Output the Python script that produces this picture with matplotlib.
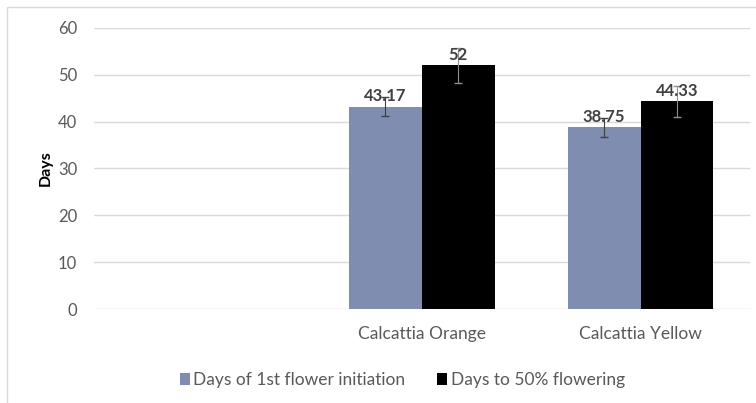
import matplotlib

matplotlib.use("Agg")
import matplotlib.pyplot as plt
import numpy as np
from matplotlib.patches import Rectangle

plt.rcParams["font.family"] = ["Lato", "DejaVu Sans"]

# Data
categories = ["", "Calcattia Orange", "Calcattia Yellow"]
first_flower = [np.nan, 43.17, 38.75]
first_flower_err = [0, 2.0, 2.0]
fifty_pct = [np.nan, 52, 44.33]
fifty_pct_err = [0, 3.7, 3.3]
value_labels_first = ["", "43.17", "38.75"]
value_labels_fifty = ["", "52", "44.33"]

color_first = "#7E8DB0"
color_fifty = "#000000"
text_grey = "#595959"

fig = plt.figure(figsize=(7.56, 4.03), dpi=100)
ax = fig.add_axes([0.124, 0.233, 0.868, 0.698])

x = np.arange(len(categories))
width = 0.333

ax.bar(x - width / 2, first_flower, width, color=color_first,
       label="Days of 1st flower initiation", zorder=2)
ax.bar(x + width / 2, fifty_pct, width, color=color_fifty,
       label="Days to 50% flowering", zorder=2)

ax.errorbar(x[1:] - width / 2, first_flower[1:], yerr=first_flower_err[1:],
            fmt="none", ecolor="#404040", elinewidth=0.8, capsize=3, zorder=4)
ax.errorbar(x[1:] + width / 2, fifty_pct[1:], yerr=fifty_pct_err[1:],
            fmt="none", ecolor="#909090", elinewidth=0.8, capsize=3, zorder=4)

for i in range(1, len(categories)):
    ax.text(x[i] - width / 2, first_flower[i] + 0.5, value_labels_first[i],
            ha="center", va="bottom", fontsize=12, fontweight="bold",
            color="#404040", zorder=5)
    ax.text(x[i] + width / 2, fifty_pct[i] + 0.5, value_labels_fifty[i],
            ha="center", va="bottom", fontsize=12, fontweight="bold",
            color="#404040", zorder=5)

ax.set_xlim(-0.5, 2.5)
ax.set_ylim(0, 60)
ax.set_yticks(np.arange(0, 61, 10))
ax.set_xticks(x)
ax.set_xticklabels(categories, fontsize=12.5, color=text_grey)
ax.tick_params(axis="y", labelsize=12, labelcolor=text_grey, length=0, pad=12)
ax.tick_params(axis="x", length=0, pad=12)
ax.grid(axis="y", color="#D9D9D9", linewidth=1, zorder=0)
for s in ax.spines.values():
    s.set_visible(False)
ax.set_ylabel("Days", fontsize=11.5, fontweight="bold", color="#000000", labelpad=4)

fig.legend(loc="center", bbox_to_anchor=(0.532, 0.057), ncol=2, frameon=False,
           fontsize=12.5, handlelength=0.6, handleheight=0.7, handletextpad=0.2,
           columnspacing=1.8, labelcolor=text_grey)

# light chart border
fig.patches.append(Rectangle((7 / 756, -0.1), 1.2, 1 - 7 / 403 + 0.1,
                             transform=fig.transFigure, fill=False,
                             edgecolor="#D9D9D9", linewidth=1))

fig.savefig("out.png", dpi=100)
